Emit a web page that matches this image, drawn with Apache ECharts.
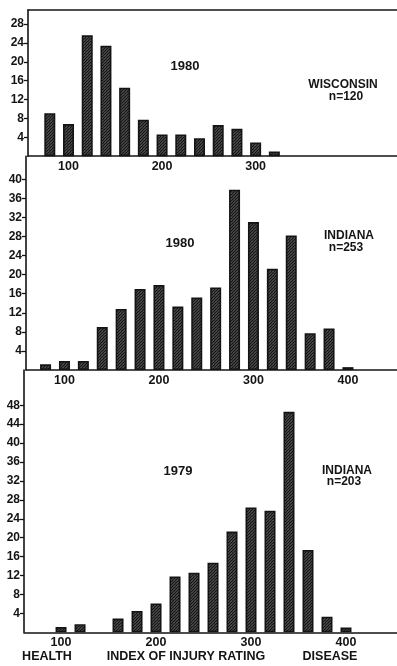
<!DOCTYPE html>
<html>
<head>
<meta charset="utf-8">
<script src="https://cdn.jsdelivr.net/npm/echarts@6/dist/echarts.min.js"></script>
<style>
html,body{margin:0;padding:0;background:#fff;}
#chart{width:397px;height:666px;}
</style>
</head>
<body>
<div id="chart"></div>
<script>
// ---- data ----
const wiscBins = [80, 100, 120, 140, 160, 180, 200, 220, 240, 260, 280, 300, 320];
const wisc1980 = [9.1, 6.8, 25.6, 23.4, 14.5, 7.7, 4.6, 4.6, 3.8, 6.6, 5.8, 2.9, 1.0];

const ind80Bins = [80, 100, 120, 140, 160, 180, 200, 220, 240, 260, 280, 300, 320, 340, 360, 380, 400];
const ind1980 = [1.2, 1.9, 1.9, 9.0, 12.8, 17.0, 17.8, 13.3, 15.2, 17.3, 37.8, 31.0, 21.2, 28.2, 7.7, 8.7, 0.6];

const ind79Bins = [100, 120, 160, 180, 200, 220, 240, 260, 280, 300, 320, 340, 360, 380, 400];
const ind1979 = [1.1, 1.7, 2.9, 4.5, 6.1, 11.8, 12.6, 14.7, 21.3, 26.4, 25.7, 46.6, 17.4, 3.3, 1.0];

const xTicksTop = [100, 200, 300];
const xTicks = [100, 200, 300, 400];
const yTicksTop = [4, 8, 12, 16, 20, 24, 28];
const yTicksMid = [4, 8, 12, 16, 20, 24, 28, 32, 36, 40];
const yTicksBot = [4, 8, 12, 16, 20, 24, 28, 32, 36, 40, 44, 48];

// ---- style ----
const ink = '#141414';
const font = 'Liberation Sans';

function hatch() {
  const c = document.createElement('canvas');
  c.width = 3; c.height = 3;
  const g = c.getContext('2d');
  g.fillStyle = '#ffffff';
  g.fillRect(0, 0, 3, 3);
  g.strokeStyle = ink;
  g.lineWidth = 1.9;
  g.beginPath();
  g.moveTo(-1, 4); g.lineTo(4, -1);
  g.moveTo(-2, 2); g.lineTo(2, -2);
  g.moveTo(1, 5); g.lineTo(5, 1);
  g.stroke();
  return c;
}
const pattern = { image: hatch(), repeat: 'repeat' };

const panels = [
  { top: 10, height: 146.2, left: 28, xmin: 56.7, xmax: 451.1, ymax: 30.97, xt: xTicksTop, yt: yTicksTop, bins: wiscBins, vals: wisc1980 },
  { top: 156.2, height: 213.8, left: 26, xmin: 59.3, xmax: 451.9, ymax: 44.82, xt: xTicks, yt: yTicksMid, bins: ind80Bins, vals: ind1980 },
  { top: 370, height: 262.3, left: 24, xmin: 61.0, xmax: 453.7, ymax: 55.45, xt: xTicks, yt: yTicksBot, bins: ind79Bins, vals: ind1979 }
];

const grid = [], xAxis = [], yAxis = [], series = [];
panels.forEach((p, i) => {
  grid.push({ left: p.left, right: 0, top: p.top, height: p.height });
  xAxis.push({
    gridIndex: i, type: 'value', min: p.xmin, max: p.xmax,
    axisLine: { show: true, onZero: false, lineStyle: { color: ink, width: 1.6 } },
    axisTick: { show: false },
    splitLine: { show: false },
    axisLabel: { customValues: p.xt, color: ink, fontFamily: font, fontWeight: 'bold', fontSize: 12.5, margin: 4 }
  });
  yAxis.push({
    gridIndex: i, type: 'value', min: 0, max: p.ymax,
    axisLine: { show: true, onZero: false, lineStyle: { color: ink, width: 1.6 } },
    axisTick: { show: true, length: 4, customValues: p.yt, lineStyle: { color: ink, width: 1.3 } },
    splitLine: { show: false },
    axisLabel: { customValues: p.yt, color: ink, fontFamily: font, fontWeight: 'bold', fontSize: 12, margin: 4 }
  });
  series.push({
    type: 'bar', xAxisIndex: i, yAxisIndex: i,
    barWidth: 11,
    data: p.bins.map((b, k) => [b, p.vals[k]]),
    itemStyle: { color: pattern, borderColor: ink, borderWidth: 1.6 },
    silent: true, animation: false
  });
});
// top border of first panel
xAxis.push({
  gridIndex: 0, type: 'value', position: 'top', min: panels[0].xmin, max: panels[0].xmax,
  axisLine: { show: true, onZero: false, lineStyle: { color: ink, width: 1.5 } },
  axisTick: { show: false }, axisLabel: { show: false }, splitLine: { show: false }
});

function txt(s, x, y, size) {
  return { type: 'text', x: x, y: y, silent: true,
    style: { text: s, fill: ink, font: 'bold ' + (size || 12) + 'px "' + font + '"', textAlign: 'center', textVerticalAlign: 'middle' } };
}

const chart = echarts.init(document.getElementById('chart'), null, { renderer: 'canvas' });
chart.setOption({
  backgroundColor: '#ffffff',
  animation: false,
  grid, xAxis, yAxis, series,
  graphic: [
    txt('1980', 185, 66, 13),
    txt('WISCONSIN', 343, 85, 12),
    txt('n=120', 346, 97, 12),
    txt('1980', 180, 243, 13),
    txt('INDIANA', 349, 236, 12),
    txt('n=253', 346, 247.5, 12),
    txt('1979', 178, 471, 13),
    txt('INDIANA', 347, 471, 12),
    txt('n=203', 344, 482, 12),
    txt('HEALTH', 47, 657, 12.5),
    txt('INDEX OF INJURY RATING', 186, 657, 12.5),
    txt('DISEASE', 330, 657, 12.5)
  ]
});
</script>
</body>
</html>
